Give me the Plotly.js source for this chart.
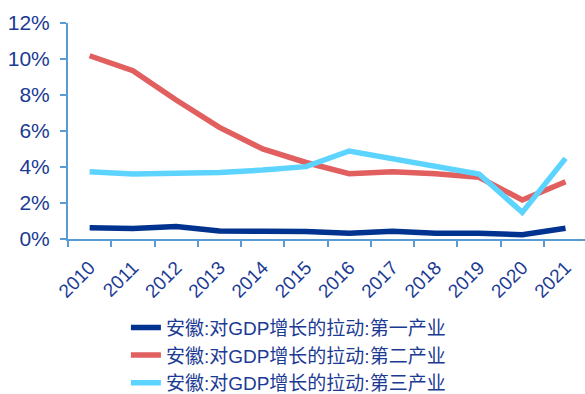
<!DOCTYPE html>
<html>
<head>
<meta charset="utf-8">
<script src="https://cdn.plot.ly/plotly-3.0.1.min.js"></script>
<style>html,body{margin:0;padding:0;background:#fff;}#chart{width:585px;height:394px;}</style>
</head>
<body>
<div id="chart"></div>
<script>
const years = ['2010','2011','2012','2013','2014','2015','2016','2017','2018','2019','2020','2021'];
const primary = [0.63, 0.59, 0.70, 0.44, 0.43, 0.42, 0.32, 0.43, 0.32, 0.32, 0.24, 0.60];
const secondary = [10.18, 9.35, 7.72, 6.20, 5.00, 4.25, 3.63, 3.74, 3.63, 3.43, 2.17, 3.18];
const tertiary = [3.74, 3.61, 3.65, 3.70, 3.83, 4.02, 4.89, 4.48, 4.07, 3.61, 1.48, 4.48];
const names = ['安徽:对GDP增长的拉动:第一产业','安徽:对GDP增长的拉动:第二产业','安徽:对GDP增长的拉动:第三产业'];
const colors = ['#00338F', '#E15F5F', '#5CD4FF'];
const textColor = '#1B3A94';
const axisColor = '#5B9BD5';
const series = [primary, secondary, tertiary];
const traces = series.map((s, i) => ({
  x: years, y: s, name: names[i], type: 'scatter', mode: 'lines',
  line: {color: colors[i], width: 5.5}
}));
const layout = {
  width: 585, height: 394,
  margin: {l: 68, r: 0, t: 23, b: 155, autoexpand: false},
  paper_bgcolor: '#fff', plot_bgcolor: '#fff',
  font: {family: 'Liberation Sans, Arial, sans-serif', color: textColor},
  showlegend: true,
  xaxis: {
    type: 'category', showgrid: false, zeroline: false, automargin: false,
    showline: true, linecolor: axisColor, linewidth: 2,
    ticks: 'outside', tickson: 'boundaries', ticklen: 6, tickcolor: axisColor, tickwidth: 2,
    tickangle: -45, tickfont: {size: 19, color: textColor}, ticklabelstandoff: 8,
    range: [-0.5, 11.45]
  },
  yaxis: {
    range: [0, 12], dtick: 2, ticksuffix: '%', showgrid: false, zeroline: false, automargin: false,
    showline: true, linecolor: axisColor, linewidth: 2,
    ticks: 'outside', ticklen: 6, tickcolor: axisColor, tickwidth: 2,
    tickfont: {size: 21, color: textColor}, ticklabelstandoff: 6
  },
  legend: {
    orientation: 'v', x: 0.112, xanchor: 'left', y: -0.322, yanchor: 'top',
    font: {size: 19, color: textColor, family: 'Liberation Sans, Noto Sans CJK SC, sans-serif'},
    tracegroupgap: 0, itemwidth: 30, bgcolor: 'rgba(0,0,0,0)'
  }
};
Plotly.newPlot('chart', traces, layout, {displayModeBar: false, staticPlot: true});
</script>
</body>
</html>
